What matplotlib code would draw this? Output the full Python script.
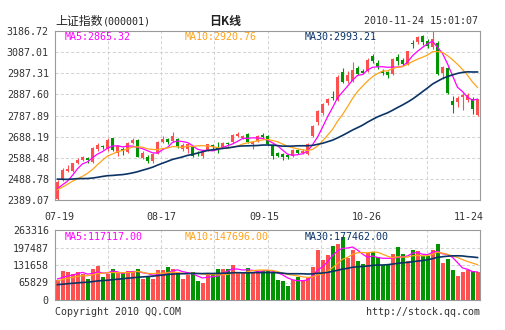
import numpy as np
import matplotlib
matplotlib.use("Agg")
import matplotlib.pyplot as plt

# ---- daily K-line data, 2010-07-19 .. 2010-11-24 ----
opens = [2396, 2483.5, 2528, 2524, 2566, 2580, 2588, 2568, 2630, 2645,
         2628, 2681, 2610, 2632, 2617, 2658, 2674, 2588, 2590, 2575,
         2609, 2661, 2677, 2668, 2678, 2630, 2628, 2640, 2612, 2598,
         2625, 2647, 2641, 2641, 2658, 2664, 2693, 2684, 2700, 2653,
         2668, 2697, 2690, 2649, 2609, 2605, 2602, 2597, 2625, 2612,
         2605, 2690, 2755, 2800, 2845, 2876, 2862, 2992, 2950, 2950,
         3012, 2996, 3000, 3070, 3034, 3000, 2995, 2985, 3064, 3050,
         3030, 3130, 3133, 3162, 3140, 3112, 3130, 2988, 3010, 2858,
         2853, 2877, 2862, 2868, 2792]
highs = [2483, 2538, 2553, 2565, 2585, 2596, 2592, 2640, 2660, 2647,
         2680, 2683, 2648, 2640, 2664, 2680, 2677, 2618, 2600, 2612,
         2668, 2690, 2684, 2708, 2683, 2658, 2656, 2645, 2618, 2620,
         2655, 2652, 2664, 2662, 2662, 2700, 2712, 2698, 2703, 2668,
         2697, 2706, 2694, 2652, 2615, 2610, 2606, 2631, 2630, 2628,
         2660, 2745, 2813, 2848, 2872, 2905, 2978, 3010, 2998, 3040,
         3020, 3008, 3058, 3076, 3050, 3008, 3000, 3060, 3080, 3058,
         3094, 3145, 3165, 3166, 3150, 3186.72, 3140, 3020, 3015, 2880,
         2880, 2895, 2895, 2875, 2868]
lows = [2389.07, 2478, 2520, 2520, 2560, 2572, 2565, 2562, 2620, 2630,
        2622, 2622, 2596, 2600, 2612, 2652, 2590, 2582, 2565, 2562,
        2605, 2656, 2655, 2662, 2636, 2622, 2612, 2590, 2597, 2588,
        2620, 2630, 2610, 2636, 2645, 2660, 2688, 2678, 2658, 2630,
        2662, 2682, 2648, 2581, 2590, 2576, 2584, 2592, 2604, 2604,
        2600, 2685, 2745, 2790, 2836, 2860, 2858, 2940, 2942, 2945,
        2980, 2985, 2995, 3038, 3008, 2978, 2963, 2980, 3025, 3025,
        3026, 3108, 3125, 3120, 3105, 3100, 2980, 2960, 2890, 2800,
        2830, 2814, 2850, 2795, 2785]
closes = [2475.4, 2530.7, 2536, 2562, 2578, 2592, 2576, 2635, 2648, 2637,
          2673, 2625, 2643, 2620, 2657, 2673, 2594, 2612, 2572, 2608,
          2664, 2676, 2665, 2692, 2642, 2650, 2652, 2595, 2604, 2615,
          2652, 2638, 2625, 2657, 2652, 2696, 2699, 2692, 2662, 2664,
          2692, 2688, 2652, 2598, 2596, 2591, 2590, 2627, 2610, 2618,
          2655.7, 2738.7, 2806.9, 2841.4, 2866, 2870, 2971, 2945, 2980, 3005,
          2985, 2990.7, 3051, 3045, 3016, 2988, 2978, 3054, 3046, 3032,
          3090, 3127, 3160, 3137, 3118, 3148.4, 2985.4, 3014.5, 2894.5, 2838.2,
          2872, 2885, 2884, 2820, 2865.6]
volumes = [83600, 122600, 118400, 108700, 118400, 108700, 87800, 129500, 143500, 94700,
           108700, 129500, 111400, 111400, 121200, 121200, 129500, 87800, 94700, 87800,
           125400, 125400, 136500, 129500, 114200, 87800, 104500, 115600, 79400, 72400,
           104500, 114200, 129500, 129500, 129500, 146300, 111400, 111400, 132300, 118400,
           122600, 122600, 122600, 118400, 83600, 79400, 58500, 83600, 97500, 83600,
           94700, 139300, 209000, 167200, 188100, 226000, 235000, 263316, 174100, 209000,
           163000, 150400, 195000, 202000, 178300, 146300, 150400, 192200, 222000, 192200,
           163000, 209284, 206200, 185300, 183900, 211000, 232000, 154000, 169400, 124975,
           102000, 119000, 127000, 120000, 117585]

# sessions before 07-19 that feed the moving averages
history_closes = [2552.6, 2553.6, 2513.2, 2520.7, 2580.6, 2568.3, 2569.9, 2543.4, 2514.3, 2569.9,
                  2587.8, 2575.9, 2569.0, 2552.8, 2535.6, 2427.1, 2398.4, 2373.8, 2382.9, 2364.0,
                  2409.4, 2401.5, 2415.3, 2470.1, 2468.5, 2438.0, 2450.0, 2424.3, 2424.3]
history_volumes = [62000, 58000, 55000, 66000, 60000, 57000, 54000, 52000, 58000, 61000,
                   63000, 55000, 50000, 52000, 68000, 60000, 50000, 48000, 46000, 45000,
                   62000, 70000, 68000, 86000, 74000, 92000, 88000, 90000, 86400]

date_labels = ["07-19", "08-17", "09-15", "10-26", "11-24"]
price_tick_labels = ["2389.07", "2488.78", "2588.48", "2688.19", "2787.89",
                     "2887.60", "2987.31", "3087.01", "3186.72"]
volume_tick_labels = ["0", "65829", "131658", "197487", "263316"]
price_ma_text = ["MA5:2865.32", "MA10:2920.76", "MA30:2993.21"]
volume_ma_text = ["MA5:117117.00", "MA10:147696.00", "MA30:177462.00"]
title_name = "上证指数"
title_code = "(000001)"
title_period = "日K线"
timestamp = "2010-11-24 15:01:07"
footer_left = "Copyright 2010 QQ.COM"
footer_right = "http://stock.qq.com"

RED = "#ff5050"
GREEN = "#009400"
MA_COLORS = ["#ff00ff", "#ffa31a", "#0b3366"]
GRID = "#d4d4d4"
FRAME = "#9a9a9a"
TEXT = "#333333"
MONO = "DejaVu Sans Mono"
CJK = "Noto Sans CJK SC"


def moving_average(history, values, window):
    s = np.concatenate([history, values]).astype(float)
    out = np.convolve(s, np.ones(window) / window, mode="valid")
    return out[-len(values):]


o = np.array(opens, float)
h = np.array(highs, float)
l = np.array(lows, float)
c = np.array(closes, float)
v = np.array(volumes, float)
n = len(c)
xi = np.arange(n)
up = c >= o
colors = np.where(up, RED, GREEN)

W, H = 505, 330
fig = plt.figure(figsize=(W / 100, H / 100), dpi=100)


def fx(px):
    return px / W


def fy(py):
    return 1 - py / H


LEFT, RIGHT = 55, 480
ax = fig.add_axes([fx(LEFT), fy(200), (RIGHT - LEFT) / W, 169 / H])
axv = fig.add_axes([fx(LEFT), fy(300), (RIGHT - LEFT) / W, 70 / H])

for a in (ax, axv):
    a.set_xlim(-0.5, n - 0.5)
    a.set_xticks([])
    for s in a.spines.values():
        s.set_color(FRAME)
        s.set_linewidth(0.8)
    a.tick_params(axis="y", length=0, pad=4.5, labelsize=7.2, labelcolor=TEXT)
    for k in range(1, 8):
        a.axvline(-0.5 + n * k / 8, color=GRID, lw=0.75, ls=(0, (3, 2)), zorder=0)

# price panel
lo, hi = l.min(), h.max()
ax.set_ylim(lo, hi)
pticks = np.linspace(lo, hi, len(price_tick_labels))
ax.set_yticks(pticks, price_tick_labels, family=MONO)
for t in pticks[1:-1]:
    ax.axhline(t, color=GRID, lw=0.75, ls=(0, (3, 2)), zorder=0)

min_body = (hi - lo) / 169 * 0.9
ax.vlines(xi, l, h, colors=colors, lw=0.8, zorder=2)
ax.bar(xi, np.maximum(np.abs(c - o), min_body), bottom=np.minimum(o, c),
       width=0.78, color=colors, lw=0, zorder=3)

for win, col, lw in zip((5, 10, 30), MA_COLORS, (0.9, 0.9, 1.2)):
    ax.plot(xi, moving_average(history_closes, c, win), color=col, lw=lw, zorder=4)

# volume panel
vtop = v.max() / 0.9
axv.set_ylim(0, vtop)
vticks = np.linspace(0, vtop, len(volume_tick_labels))
axv.set_yticks(vticks, volume_tick_labels, family=MONO)
for t in vticks[1:-1]:
    axv.axhline(t, color=GRID, lw=0.75, ls=(0, (3, 2)), zorder=0)
axv.bar(xi, v, width=0.8, color=colors, lw=0, zorder=2)
for win, col, lw in zip((5, 10, 30), MA_COLORS, (0.9, 0.9, 1.2)):
    axv.plot(xi, moving_average(history_volumes, v, win), color=col, lw=lw, zorder=4)

# moving-average legends inside the panels
for txt, col, px in zip(price_ma_text, MA_COLORS, (65, 185, 305)):
    fig.text(fx(px), fy(37), txt, color=col, family=MONO, size=7.2, va="center", ha="left")
for txt, col, px in zip(volume_ma_text, MA_COLORS, (65, 185, 305)):
    fig.text(fx(px), fy(237), txt, color=col, family=MONO, size=7.2, va="center", ha="left")

# date labels under the price panel
for txt, px in zip(date_labels, (59.5, 161.5, 264.5, 366.5, 469)):
    fig.text(fx(px), fy(217), txt, color=TEXT, family=MONO, size=7.2, va="center", ha="center")

# header
fig.text(fx(55), fy(21.5), title_name, family=CJK, size=8.6, va="center", ha="left", color="#222222")
fig.text(fx(103), fy(21.5), title_code, family=MONO, size=7.2, va="center", ha="left", color="#222222")
fig.text(fx(225), fy(21.5), title_period, family=CJK, size=8.6, va="center", ha="center",
         color="#222222", weight="bold")
fig.text(fx(478), fy(21.5), timestamp, family=MONO, size=7.2, va="center", ha="right", color=TEXT)

# footer
fig.text(fx(55), fy(312), footer_left, family=MONO, size=7.2, va="center", ha="left", color=TEXT)
fig.text(fx(480), fy(312), footer_right, family=MONO, size=7.2, va="center", ha="right", color=TEXT)

fig.savefig("out.png", dpi=100, facecolor="white")
